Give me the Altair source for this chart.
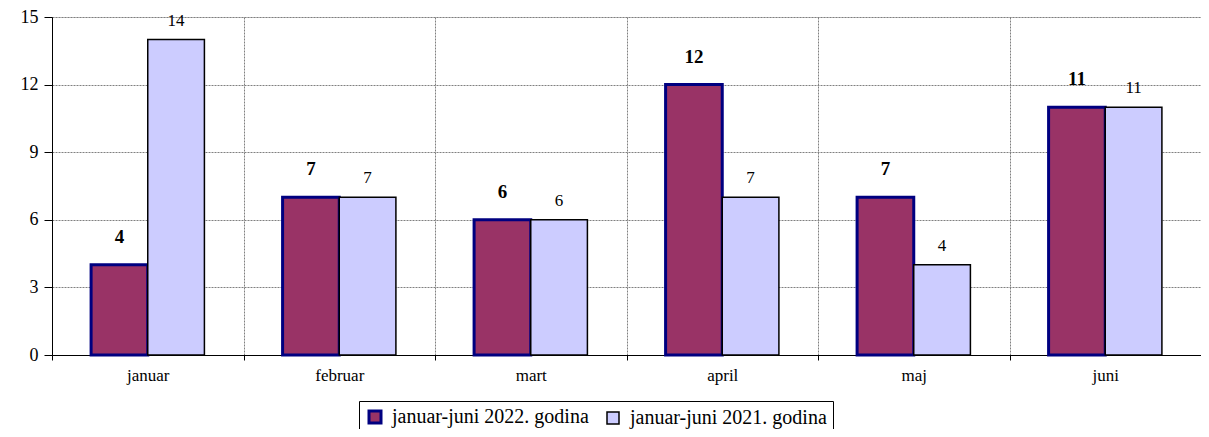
import altair as alt
import pandas as pd

months = ["januar", "februar", "mart", "april", "maj", "juni"]
series = ["januar-juni 2022. godina", "januar-juni 2021. godina"]
vals_2022 = [4, 7, 6, 12, 7, 11]
vals_2021 = [14, 7, 6, 7, 4, 11]

rows = []
for m, a, b in zip(months, vals_2022, vals_2021):
    rows.append({"month": m, "series": series[0], "value": a})
    rows.append({"month": m, "series": series[1], "value": b})
df = pd.DataFrame(rows)

FONT = "Liberation Serif"

x = alt.X("month:N", sort=months, title=None,
          scale=alt.Scale(paddingInner=0, paddingOuter=0),
          axis=alt.Axis(tickBand="extent", grid=True, gridColor="#808080",
                        gridDash=[2, 1], gridWidth=1, domainColor="black",
                        tickColor="black", tickSize=5, labelAngle=0,
                        labelFont=FONT, labelFontSize=17, labelColor="black",
                        labelPadding=7))
xoff = alt.XOffset("series:N", sort=series,
                   scale=alt.Scale(domain=series, paddingInner=0, paddingOuter=0.69))
y = alt.Y("value:Q", title=None,
          scale=alt.Scale(domain=[0, 15], nice=False, zero=True),
          axis=alt.Axis(values=[0, 3, 6, 9, 12, 15], grid=True, gridColor="#808080",
                        gridDash=[2, 1], domainColor="black", tickColor="black",
                        tickSize=8, labelFont=FONT, labelFontSize=18,
                        labelColor="black", labelPadding=6))

bars = alt.Chart(df).mark_bar().encode(
    x=x, xOffset=xoff, y=y,
    fill=alt.Fill("series:N", sort=series,
                  scale=alt.Scale(domain=series, range=["#993366", "#CCCCFF"]),
                  legend=alt.Legend(title=None, orient="none", direction="horizontal",
                                    legendX=307, legendY=384,
                                    strokeColor="black", padding=6,
                                    labelFont=FONT, labelFontSize=20, labelColor="black",
                                    labelOffset=7,
                                    symbolType="square", symbolSize=144,
                                    symbolStrokeWidth=2, columnPadding=14,
                                    labelLimit=400)),
    stroke=alt.Stroke("series:N", sort=series,
                      scale=alt.Scale(domain=series, range=["#000080", "#000000"])),
    strokeWidth=alt.StrokeWidth("series:N",
                                scale=alt.Scale(domain=series, range=[3, 1.5]),
                                legend=None),
)

lab22 = alt.Chart(df).transform_filter(
    alt.datum.series == series[0]
).mark_text(font=FONT, fontSize=19, fontWeight="bold", baseline="bottom",
            dy=-18, color="black").encode(
    x=x, xOffset=xoff, y=y, text="value:Q")

lab21 = alt.Chart(df).transform_filter(
    alt.datum.series == series[1]
).mark_text(font=FONT, fontSize=17, baseline="bottom", dy=-10,
            color="black").encode(
    x=x, xOffset=xoff, y=y, text="value:Q")

chart = alt.layer(bars, lab22, lab21).properties(
    width=1149, height=338,
    autosize=alt.AutoSizeParams(type="none"),
    padding={"left": 44, "top": 9, "right": 0, "bottom": 74},
).configure_view(stroke=None).configure(
    background="white", font=FONT
).configure_axis(labelFont=FONT).configure_legend(labelFont=FONT)

chart.save("out.html", embed_options={"renderer": "svg", "actions": False})
